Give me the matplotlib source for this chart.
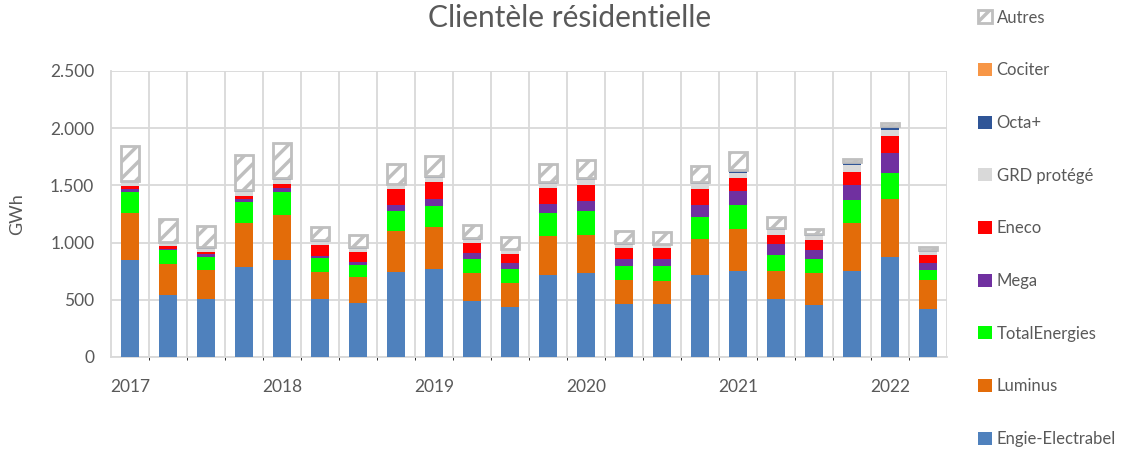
import numpy as np
import matplotlib.pyplot as plt
from matplotlib.ticker import FuncFormatter

# quarterly values, 2017 Q1 .. 2022 Q2 (GWh)
quarters = [f"{y}-T{q}" for y in range(2017, 2023) for q in range(1, 5)][:22]
year_labels = ["2017", "2018", "2019", "2020", "2021", "2022"]

engie = [850, 545, 507, 787, 845, 507, 472, 744, 773, 493, 437,
         720, 738, 460, 460, 714, 752, 510, 455, 752, 877, 420]
luminus = [410, 270, 250, 385, 400, 237, 225, 355, 365, 239, 213,
           341, 332, 210, 205, 315, 365, 242, 277, 417, 505, 254]
total = [185, 120, 120, 181, 195, 119, 108, 179, 180, 128, 120,
         196, 204, 129, 128, 193, 207, 143, 126, 201, 230, 90]
mega = [25, 12, 20, 30, 33, 21, 23, 46, 65, 50, 49,
        76, 91, 61, 65, 102, 125, 88, 81, 132, 173, 55]
eneco = [25, 25, 21, 28, 37, 93, 93, 146, 148, 90, 82,
         142, 137, 88, 90, 143, 117, 87, 79, 119, 145, 70]
grd = [30, 22, 26, 35, 35, 29, 24, 29, 35, 26, 32,
       33, 43, 29, 29, 41, 44, 38, 37, 53, 53, 26]
octa = [12, 12, 11, 13, 13, 12, 11, 15, 12, 13, 10,
        15, 13, 14, 12, 15, 17, 18, 15, 23, 23, 13]
cociter = [3, 2, 2, 2, 2, 2, 2, 2, 2, 2, 2,
           5, 2, 2, 2, 3, 3, 3, 3, 9, 12, 8]
autres = [300, 195, 187, 300, 313, 118, 109, 167, 175, 115, 100,
          161, 162, 108, 103, 146, 160, 98, 47, 26, 23, 27]

series = [
    ("Engie-Electrabel", engie, "#4F81BD"),
    ("Luminus", luminus, "#E36C09"),
    ("TotalEnergies", total, "#00FF00"),
    ("Mega", mega, "#7030A0"),
    ("Eneco", eneco, "#FF0000"),
    ("GRD protégé", grd, "#D9D9D9"),
    ("Octa+", octa, "#2F5597"),
    ("Cociter", cociter, "#F79646"),
]

plt.rcParams["font.family"] = ["Lato", "DejaVu Sans"]
plt.rcParams["hatch.color"] = "#CFCFCF"
plt.rcParams["hatch.linewidth"] = 2.5

fig = plt.figure(figsize=(11.4, 4.49), dpi=100)
ax = fig.add_axes([0.0974, 0.205, 0.7333, 0.637])

x = np.arange(len(quarters))
bottom = np.zeros(len(quarters))
handles = []
for name, vals, color in series:
    h = ax.bar(x, vals, 0.46, bottom=bottom, color=color, label=name, zorder=3)
    handles.append(h)
    bottom += np.array(vals)
h = ax.bar(x, autres, 0.46, bottom=bottom, facecolor="white", edgecolor="#BFBFBF",
           linewidth=2.0, hatch="//", label="Autres", zorder=3)
handles.append(h)

ax.set_xlim(-0.5, len(quarters) - 0.5)
ax.set_ylim(0, 2500)
ax.set_yticks(np.arange(0, 2501, 500))
ax.yaxis.set_major_formatter(FuncFormatter(lambda v, p: f"{int(v):,}".replace(",", ".")))
ax.set_xticks(np.arange(0, len(quarters), 4))
ax.set_xticklabels(year_labels)
ax.set_xticks(np.arange(0.5, len(quarters) - 0.5, 1), minor=True)
ax.tick_params(axis="both", length=0, labelsize=12.5, colors="#595959")
ax.tick_params(axis="x", pad=16)
ax.tick_params(axis="y", pad=12)
ax.grid(axis="y", color="#D9D9D9", linewidth=1.3, zorder=0)
ax.grid(axis="x", which="minor", color="#D9D9D9", linewidth=1.3, zorder=0)
for s in ["top", "right"]:
    ax.spines[s].set_visible(False)
for s in ["left", "bottom"]:
    ax.spines[s].set_color("#D9D9D9")
    ax.spines[s].set_linewidth(1.3)
ax.axvline(len(quarters) - 0.5, color="#D9D9D9", linewidth=1.3, zorder=0)

ax.set_ylabel("GWh", fontsize=13, color="#595959", labelpad=18)
fig.suptitle("Clientèle résidentielle", fontsize=21.5, color="#595959", x=0.5, y=0.99)

leg = fig.legend(handles[::-1], [hh.get_label() for hh in handles[::-1]],
                 loc="upper left", bbox_to_anchor=(0.845, 1.012), frameon=False,
                 fontsize=12, labelspacing=2.2, handlelength=0.8, handleheight=0.8,
                 handletextpad=0.3, labelcolor="#595959")

fig.savefig("out.png", dpi=100)
